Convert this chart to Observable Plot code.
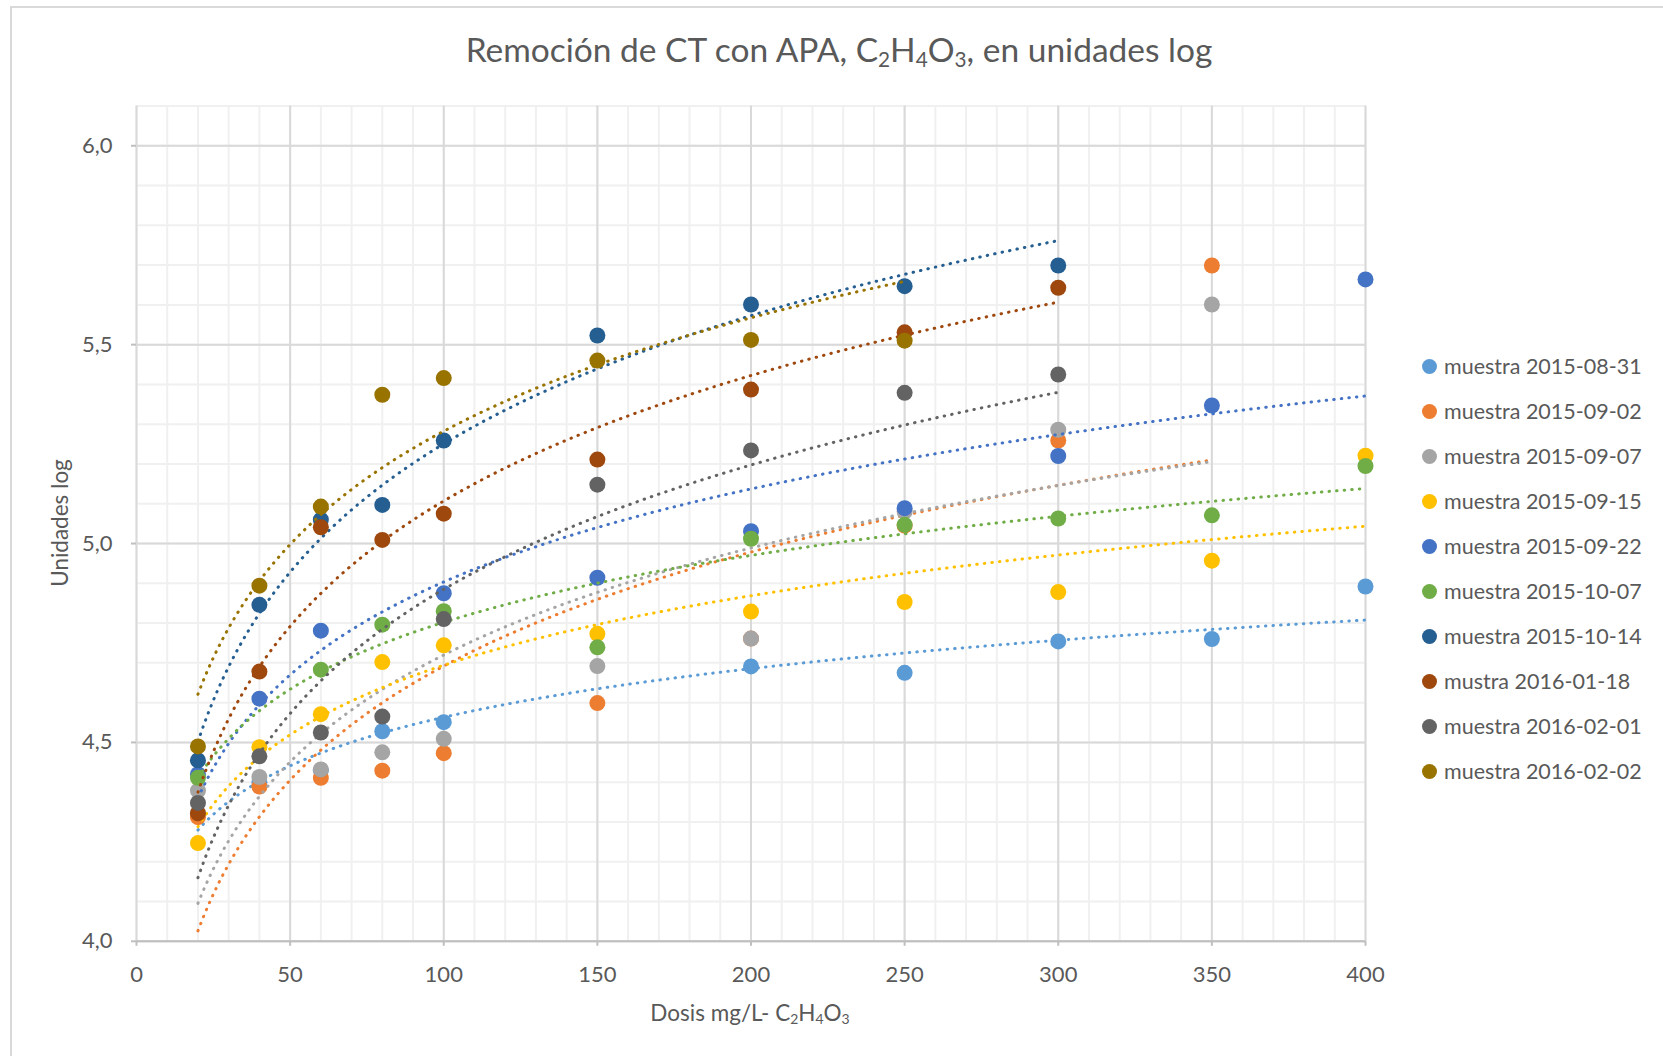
<!DOCTYPE html>
<html><head><meta charset="utf-8">
<script src="https://cdn.jsdelivr.net/npm/d3@7"></script>
<script src="https://cdn.jsdelivr.net/npm/@observablehq/plot@0.6"></script>
<style>
body{margin:0;background:#fff;font-family:Lato,"Open Sans",sans-serif;color:#595959}
#chart{position:relative;width:1663px;height:1056px;overflow:hidden;background:#fff}
#frame{position:absolute;left:10px;top:6px;width:1700px;height:1100px;border-top:2px solid #d9d9d9;border-left:2px solid #d9d9d9}
#title{position:absolute;left:10px;width:1658px;top:28px;line-height:42px;text-align:center;font-size:33.5px;white-space:nowrap}
#plot{position:absolute;left:0;top:90px}
#ytitle{position:absolute;left:60px;top:523px;transform:translate(-50%,-50%) rotate(-90deg);font-size:22.5px;white-space:nowrap;line-height:30px}
#xtitle{position:absolute;left:750px;top:1013px;transform:translate(-50%,-50%);font-size:22.5px;white-space:nowrap;line-height:30px}
sub{font-size:0.62em;vertical-align:-0.22em;line-height:0}
#legend{position:absolute;left:1422px;top:0}
.item{position:absolute;left:0;height:30px;display:flex;align-items:center;white-space:nowrap;font-size:21.5px}
.sw{width:15px;height:15px;border-radius:50%;margin-right:7px;flex:none}
</style></head><body>
<div id="chart">
  <div id="frame"></div>
  <div id="title">Remoción de CT con APA, C<sub>2</sub>H<sub>4</sub>O<sub>3</sub>, en unidades log</div>
  <div id="plot"></div>
  <div id="ytitle">Unidades log</div>
  <div id="xtitle">Dosis mg/L- C<sub>2</sub>H<sub>4</sub>O<sub>3</sub></div>
  <div id="legend"></div>
</div>
<script>
// Doses (x) shared by all series
const doses = [20, 40, 60, 80, 100, 150, 200, 250, 300, 350, 400];

// Series names and colours
const seriesNames = [
  "muestra 2015-08-31", "muestra 2015-09-02", "muestra 2015-09-07", "muestra 2015-09-15",
  "muestra 2015-09-22", "muestra 2015-10-07", "muestra 2015-10-14", "mustra 2016-01-18",
  "muestra 2016-02-01", "muestra 2016-02-02"
];
const seriesColors = ["#5B9BD5", "#ED7D31", "#A5A5A5", "#FFC000", "#4472C4", "#70AD47", "#255E91", "#9E480E", "#636363", "#997300"];

// Values (log units) per series, aligned with doses; null = no point
const v20150831 = [4.32, 4.40, 4.43, 4.528, 4.551, null, 4.691, 4.675, 4.754, 4.760, 4.892];
const v20150902 = [4.312, 4.389, 4.411, 4.429, 4.473, 4.599, 4.761, 5.045, 5.259, 5.699, null];
const v20150907 = [4.379, 4.413, 4.432, 4.475, 4.509, 4.692, 4.761, 5.08, 5.286, 5.601, null];
const v20150915 = [4.247, 4.488, 4.571, 4.702, 4.744, 4.773, 4.829, 4.853, 4.878, 4.957, 5.221];
const v20150922 = [4.42, 4.61, 4.781, null, 4.875, 4.914, 5.031, 5.089, 5.22, 5.347, 5.664];
const v20151007 = [4.411, null, 4.683, 4.796, 4.83, 4.739, 5.012, 5.047, 5.063, 5.071, 5.195];
const v20151014 = [4.455, 4.846, 5.060, 5.097, 5.259, 5.523, 5.601, 5.647, 5.699, null, null];
const v20160118 = [4.322, 4.678, 5.041, 5.009, 5.075, 5.211, 5.387, 5.531, 5.643, null, null];
const v20160201 = [4.348, 4.465, 4.525, 4.565, 4.81, 5.148, 5.234, 5.379, 5.425, null, null];
const v20160202 = [4.49, 4.894, 5.093, 5.374, 5.416, 5.46, 5.512, 5.51, null, null, null];
const seriesValues = [v20150831, v20150902, v20150907, v20150915, v20150922, v20151007, v20151014, v20160118, v20160201, v20160202];

// Axis ticks
const xMajorTicks = [0, 50, 100, 150, 200, 250, 300, 350, 400];
const xMinorTicks = [0,10,20,30,40,50,60,70,80,90,100,110,120,130,140,150,160,170,180,190,200,210,220,230,240,250,260,270,280,290,300,310,320,330,340,350,360,370,380,390,400];
const yMajorTicks = [4.0, 4.5, 5.0, 5.5, 6.0];
const yMinorTicks = [4.0,4.1,4.2,4.3,4.4,4.5,4.6,4.7,4.8,4.9,5.0,5.1,5.2,5.3,5.4,5.5,5.6,5.7,5.8,5.9,6.0,6.1];

// Build point tables
const seriesPoints = seriesValues.map((vals, i) =>
  doses.map((x, j) => ({serie: seriesNames[i], x, y: vals[j]})).filter(d => d.y != null)
);

// Logarithmic least-squares trendline (like a spreadsheet "log" trendline), over each series' x range
function logTrend(pts) {
  const lx = pts.map(p => Math.log(p.x));
  const mx = d3.mean(lx), my = d3.mean(pts, p => p.y);
  let sxy = 0, sxx = 0;
  pts.forEach((p, i) => { sxy += (lx[i] - mx) * (p.y - my); sxx += (lx[i] - mx) ** 2; });
  const a = sxy / sxx, b = my - a * mx;
  const [x0, x1] = d3.extent(pts, p => p.x);
  const n = 240;
  return d3.range(n + 1).map(k => { const x = x0 + (x1 - x0) * k / n; return {x, y: a * Math.log(x) + b}; });
}

const seriesMarks = [];
seriesPoints.forEach((pts, i) => {
  seriesMarks.push(Plot.line(logTrend(pts), {x: "x", y: "y", stroke: seriesColors[i], strokeWidth: 3, strokeDasharray: "0.5 7.1", strokeLinecap: "round"}));
  seriesMarks.push(Plot.dot(pts, {x: "x", y: "y", r: 8, fill: seriesColors[i], stroke: "none"}));
});

const chart = Plot.plot({
  width: 1400,
  height: 960,
  marginLeft: 136,
  marginRight: 35,
  marginTop: 15.5,
  marginBottom: 109.2,
  x: {domain: [0, 400], label: null},
  y: {domain: [4, 6.1], label: null},
  style: {fontFamily: "Lato, 'Open Sans', sans-serif", fontSize: "22px", color: "#595959", background: "transparent", overflow: "visible"},
  marks: [
    Plot.gridX(xMinorTicks, {stroke: "#f0f0f0", strokeOpacity: 1, strokeWidth: 2}),
    Plot.gridY(yMinorTicks, {stroke: "#f0f0f0", strokeOpacity: 1, strokeWidth: 2}),
    Plot.gridX(xMajorTicks, {stroke: "#d9d9d9", strokeOpacity: 1, strokeWidth: 2}),
    Plot.gridY(yMajorTicks, {stroke: "#d9d9d9", strokeOpacity: 1, strokeWidth: 2}),
    Plot.ruleY([4], {stroke: "#bfbfbf", strokeWidth: 2}),
    Plot.axisY(yMajorTicks, {tickSize: 5, tickPadding: 19, stroke: "#bfbfbf", strokeWidth: 2, strokeOpacity: 1, fill: "#595959", tickFormat: d => d.toFixed(1).replace(".", ","), label: null}),
    Plot.axisX(xMajorTicks, {tickSize: 5, tickPadding: 20, stroke: "#bfbfbf", strokeWidth: 2, strokeOpacity: 1, fill: "#595959", label: null}),
    ...seriesMarks
  ]
});
document.getElementById("plot").appendChild(chart);

// Legend
const legend = document.getElementById("legend");
seriesNames.forEach((name, i) => {
  const item = document.createElement("div");
  item.className = "item";
  item.style.top = (366 + i * 45 - 15) + "px";
  const sw = document.createElement("span");
  sw.className = "sw";
  sw.style.background = seriesColors[i];
  const tx = document.createElement("span");
  tx.textContent = name;
  item.appendChild(sw);
  item.appendChild(tx);
  legend.appendChild(item);
});
</script>
</body></html>
